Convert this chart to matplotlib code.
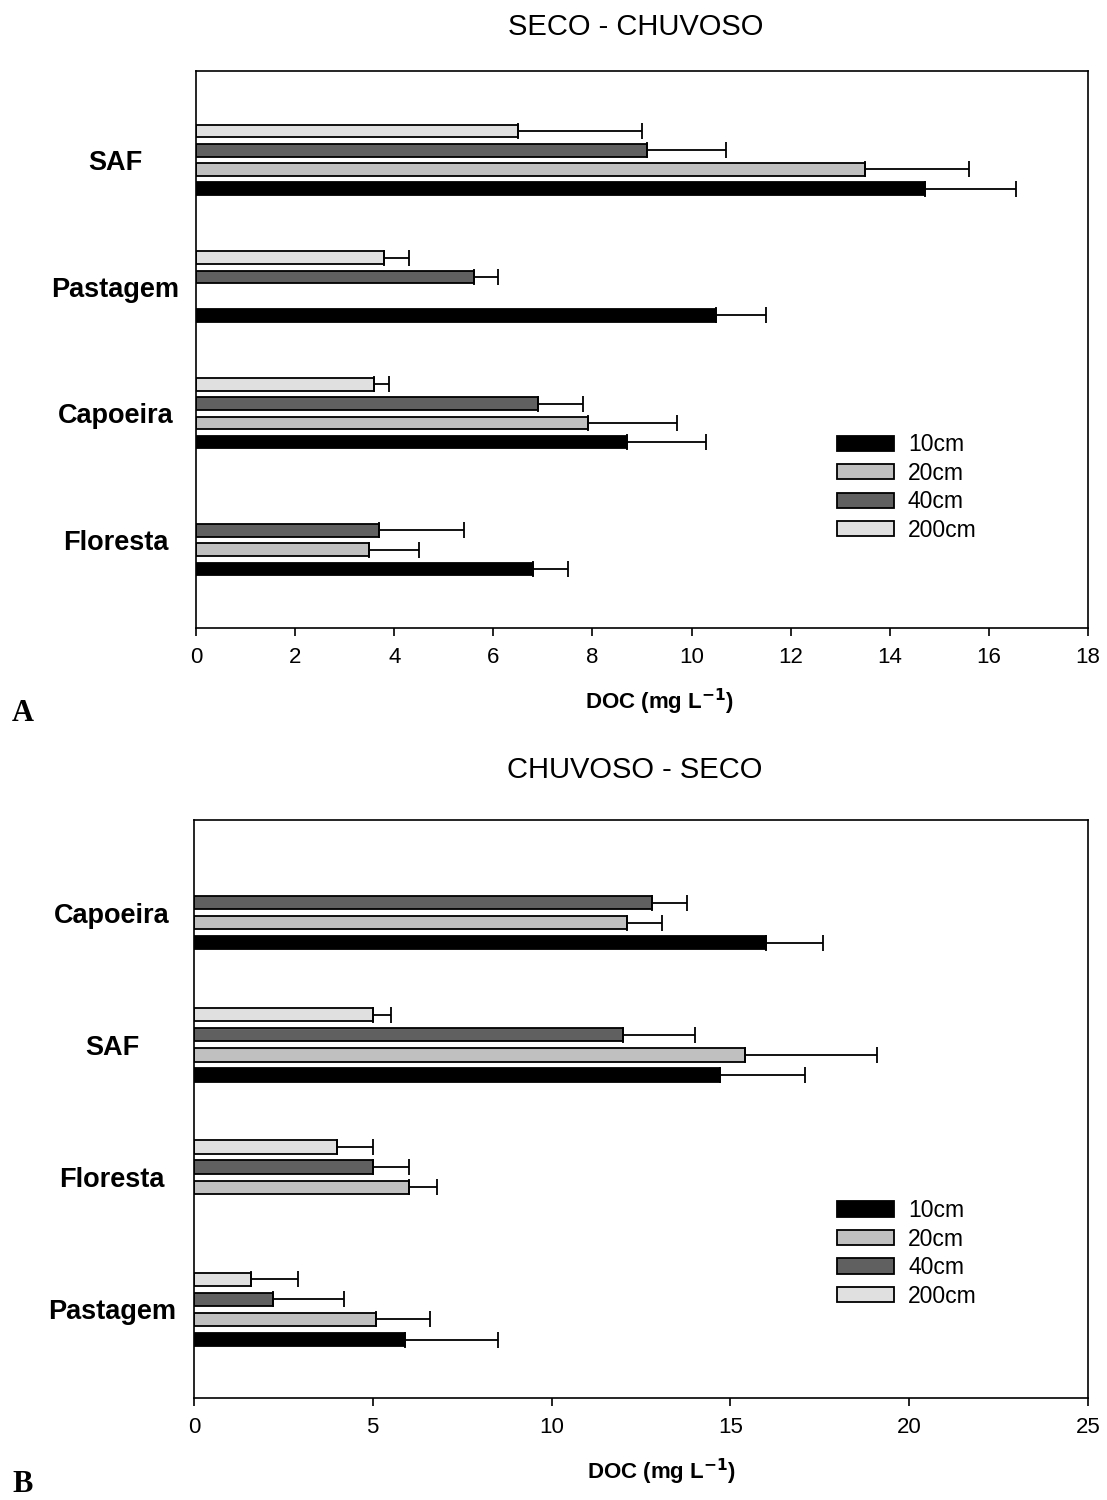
# doc_barras_profundidade.py
#
# DOC por uso do solo e profundidade
# A: SECO - CHUVOSO, B: CHUVOSO - SECO

import numpy as np
import matplotlib
matplotlib.use("Agg")
import matplotlib.pyplot as plt

plt.rcParams["font.family"] = ["Liberation Sans", "DejaVu Sans"]

# -----------------------------
# DADOS
# -----------------------------
depths = ["10cm", "20cm", "40cm", "200cm"]
colors = ["#000000", "#c0c0c0", "#606060", "#e0e0e0"]

# painel A (de baixo para cima)
cats_a = ["Floresta", "Capoeira", "Pastagem", "SAF"]
a_10 = [6.8, 8.7, 10.5, 14.7]
a_10_err = [0.7, 1.6, 1.0, 1.85]
a_20 = [3.5, 7.9, np.nan, 13.5]
a_20_err = [1.0, 1.8, np.nan, 2.1]
a_40 = [3.7, 6.9, 5.6, 9.1]
a_40_err = [1.7, 0.9, 0.5, 1.6]
a_200 = [np.nan, 3.6, 3.8, 6.5]
a_200_err = [np.nan, 0.3, 0.5, 2.5]

# painel B (de baixo para cima)
cats_b = ["Pastagem", "Floresta", "SAF", "Capoeira"]
b_10 = [5.9, np.nan, 14.7, 16.0]
b_10_err = [2.6, np.nan, 2.4, 1.6]
b_20 = [5.1, 6.0, 15.4, 12.1]
b_20_err = [1.5, 0.8, 3.7, 1.0]
b_40 = [2.2, 5.0, 12.0, 12.8]
b_40_err = [2.0, 1.0, 2.0, 1.0]
b_200 = [1.6, 4.0, 5.0, np.nan]
b_200_err = [1.3, 1.0, 0.5, np.nan]

offsets = [-0.228, -0.076, 0.076, 0.228]
bar_h = 0.10


def draw_panel(ax, cats, series, errs, xmax, xstep, ylim, label_pad):
    y = np.arange(len(cats))
    for k, (vals, err) in enumerate(zip(series, errs)):
        vals = np.array(vals, dtype=float)
        err = np.array(err, dtype=float)
        ok = ~np.isnan(vals)
        yy = y[ok] + offsets[k]
        ax.barh(yy, vals[ok], height=bar_h, color=colors[k],
                edgecolor="black", linewidth=1.3, label=depths[k], zorder=2)
        ax.errorbar(vals[ok], yy, xerr=[np.zeros(ok.sum()), err[ok]],
                    fmt="none", ecolor="black", elinewidth=1.3,
                    capsize=6, capthick=1.3, zorder=3)
    ax.set_xlim(0, xmax)
    ax.set_ylim(*ylim)
    ax.set_xticks(np.arange(0, xmax + 0.1, xstep))
    ax.set_yticks(y)
    ax.set_yticklabels(cats, ha="center", fontsize=19.5, fontweight="bold")
    ax.tick_params(axis="y", length=0, pad=label_pad)
    ax.tick_params(axis="x", direction="out", length=6, width=1.2,
                   labelsize=16, pad=8)
    for s in ax.spines.values():
        s.set_linewidth(1.2)
    ax.set_xlabel("DOC (mg L$^{\\mathbf{-1}}$)", fontsize=16, fontweight="bold")
    handles, labels = ax.get_legend_handles_labels()
    return handles, labels


fig = plt.figure(figsize=(11.07, 15.0), dpi=100)
leg_kw = dict(loc="upper left", frameon=False, fontsize=16.5,
              handlelength=2.5, handleheight=0.65, handletextpad=0.6,
              labelspacing=0.24, borderaxespad=0)

# -----------------------------
# PAINEL A
# -----------------------------
ax1 = fig.add_axes([0.177, 0.5813, 0.806, 0.3713])
h, l = draw_panel(ax1, cats_a, [a_10, a_20, a_40, a_200],
                  [a_10_err, a_20_err, a_40_err, a_200_err],
                  18, 2, (-0.695, 3.70), 58)
ax1.xaxis.set_label_coords(0.52, -0.105)
ax1.legend(h, l, bbox_to_anchor=(0.708, 0.366), **leg_kw)
fig.text(0.574, 1 - 27 / 1500, "SECO - CHUVOSO", ha="center", va="center",
         fontsize=21)
fig.text(0.011, 1 - 713 / 1500, "A", ha="left", va="center", fontsize=22,
         fontweight="bold", family="Liberation Serif")

# -----------------------------
# PAINEL B
# -----------------------------
ax2 = fig.add_axes([0.1752, 0.068, 0.8076, 0.3853])
h, l = draw_panel(ax2, cats_b, [b_10, b_20, b_40, b_200],
                  [b_10_err, b_20_err, b_40_err, b_200_err],
                  25, 5, (-0.67, 3.70), 59)
ax2.xaxis.set_label_coords(0.523, -0.101)
ax2.legend(h, l, bbox_to_anchor=(0.709, 0.36), **leg_kw)
fig.text(0.573, 1 - 770 / 1500, "CHUVOSO - SECO", ha="center", va="center",
         fontsize=21)
fig.text(0.011, 1 - 1484 / 1500, "B", ha="left", va="center", fontsize=22,
         fontweight="bold", family="Liberation Serif")

fig.savefig("out.png", dpi=100)
plt.close(fig)
print("ok")
